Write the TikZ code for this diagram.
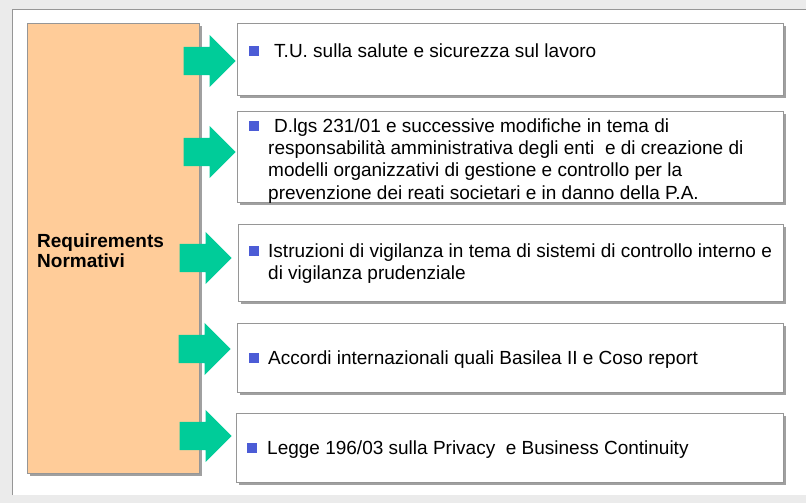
\documentclass[tikz,border=0pt]{standalone}
\usepackage{fontspec}
\setmainfont{Liberation Sans}
\usepackage{xcolor}
\usepackage{tikz}
\usetikzlibrary{shapes.arrows}
\usetikzlibrary{shadows}
\definecolor{reqorange}{RGB}{255,204,153}
\definecolor{arrowgreen}{RGB}{0,204,153}
\definecolor{bulletblue}{RGB}{76,92,214}
\definecolor{framegray}{RGB}{150,150,150}
\definecolor{shadowgray}{RGB}{160,160,160}
\definecolor{bggray}{RGB}{235,235,235}
\newcommand{\itemfont}{\fontsize{19}{22.3}\selectfont}
\newcommand{\reqfont}{\fontsize{19}{18}\selectfont\bfseries}
\tikzstyle{reqbox} = [draw=framegray, fill=reqorange, rectangle, inner sep=0pt,
anchor=north west, general shadow={fill=shadowgray, shadow xshift=3pt, shadow yshift=-3pt}]
\tikzstyle{itembox} = [draw=framegray, fill=white, rectangle, inner sep=0pt,
anchor=north west, general shadow={fill=shadowgray, shadow xshift=3pt, shadow yshift=-3pt}]
\tikzstyle{bigarrow} = [single arrow, fill=arrowgreen, draw=none, inner xsep=0pt, inner ysep=14pt,
minimum height=52pt, minimum width=52pt, single arrow head extend=12pt, anchor=tip]
\tikzstyle{bullet} = [fill=bulletblue, rectangle, minimum size=10pt, inner sep=0pt, anchor=south west]
\tikzstyle{itemtext} = [anchor=north west, inner sep=0pt, align=left, font=\itemfont]
\tikzstyle{reqtext} = [anchor=north west, inner sep=0pt, align=left, font=\reqfont]

\begin{document}
\begin{tikzpicture}[x=1pt, y=-1pt]
        \useasboundingbox (0,0) rectangle (806,503);
        \fill[bggray] (0,0) rectangle (806,503);
        \fill[white] (12,9) rectangle (806,495);
        \draw[framegray] (12,495) -- (12,9) -- (806,9);

        \node [reqbox, minimum width=172pt, minimum height=450pt] (req) at (27,23) {};
        \node [reqtext] (reqlabel) at (37,233.4) {\strut Requirements\\Normativi};

        \node [itembox, minimum width=546pt, minimum height=72pt] (tu) at (237,23) {};
        \node [itembox, minimum width=546pt, minimum height=91pt] (dlgs) at (237,111) {};
        \node [itembox, minimum width=545pt, minimum height=77pt] (vig) at (238,224) {};
        \node [itembox, minimum width=546pt, minimum height=69pt] (acc) at (237,323) {};
        \node [itembox, minimum width=547pt, minimum height=69pt] (priv) at (236,413) {};

        \node [bigarrow] (arrtu) at (236,61) {};
        \node [bigarrow] (arrdlgs) at (236,152) {};
        \node [bigarrow] (arrvig) at (232,258) {};
        \node [bigarrow] (arracc) at (231,349) {};
        \node [bigarrow] (arrpriv) at (232,436) {};

        \node [bullet] (btu) at (249,56) {};
        \node [itemtext] (ttu) at (268,41.4) {\strut\hspace*{6pt}T.U. sulla salute e sicurezza sul lavoro};

        \node [bullet] (bdlgs) at (249,131) {};
        \node [itemtext] (tdlgs) at (268,116.4) {\strut\hspace*{6pt}D.lgs 231/01 e successive modifiche in tema di\\
            responsabilità amministrativa degli enti\ \ e di creazione di\\
            modelli organizzativi di gestione e controllo per la\\
            prevenzione dei reati societari e in danno della P.A.};

        \node [bullet] (bvig) at (249,256) {};
        \node [itemtext] (tvig) at (268,241.4) {\strut Istruzioni di vigilanza in tema di sistemi di controllo interno e\\
            di vigilanza prudenziale};

        \node [bullet] (bacc) at (249,363) {};
        \node [itemtext] (tacc) at (268,348.4) {\strut Accordi internazionali quali Basilea II e Coso report};

        \node [bullet] (bpriv) at (247,453) {};
        \node [itemtext] (tpriv) at (267,438.4) {\strut Legge 196/03 sulla Privacy\ \ e Business Continuity};
    \end{tikzpicture}
\end{document}
